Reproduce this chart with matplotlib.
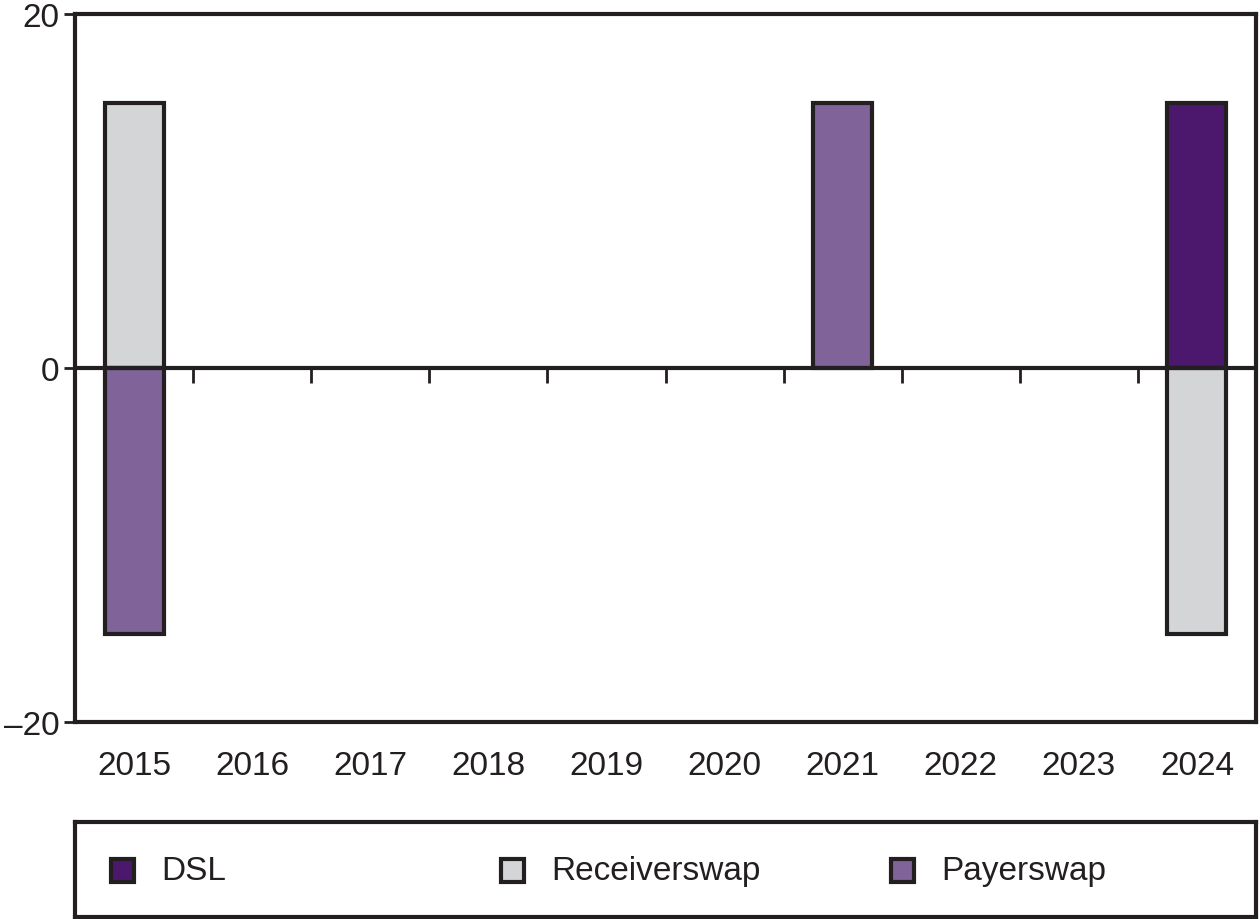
import numpy as np
import matplotlib.pyplot as plt
from matplotlib.patches import Rectangle

plt.rcParams['font.family'] = ['Liberation Sans', 'DejaVu Sans']

years = ["2015", "2016", "2017", "2018", "2019", "2020", "2021", "2022", "2023", "2024"]
series = ["DSL", "Receiverswap", "Payerswap"]
dsl = [0, 0, 0, 0, 0, 0, 0, 0, 0, 15]
receiverswap = [15, 0, 0, 0, 0, 0, 0, 0, 0, -15]
payerswap = [-15, 0, 0, 0, 0, 0, 15, 0, 0, 0]
colors = ["#4b186d", "#d4d5d7", "#7f6399"]
edge = "#231f20"


def main():
    fig = plt.figure(figsize=(12.6, 9.2), dpi=100)
    ax = fig.add_axes([75 / 1260, 1 - 723 / 920, 1181 / 1260, 708 / 920])

    x = np.arange(len(years))
    pos_bottom = np.zeros(len(years))
    neg_bottom = np.zeros(len(years))
    for vals, c in zip([dsl, receiverswap, payerswap], colors):
        v = np.array(vals, dtype=float)
        bottom = np.where(v >= 0, pos_bottom, neg_bottom)
        m = v != 0
        ax.bar(x[m], v[m], bottom=bottom[m], width=0.5, color=c,
               edgecolor=edge, linewidth=3, zorder=2)
        pos_bottom += np.where(v > 0, v, 0)
        neg_bottom += np.where(v < 0, v, 0)

    ax.axhline(0, color=edge, linewidth=3, zorder=3)
    ax.set_xlim(-0.5, len(years) - 0.5)
    ax.set_ylim(-20, 20)
    ax.set_yticks([-20, 0, 20])
    ax.set_yticklabels(["\u201320", "0", "20"])
    ax.set_xticks(x)
    ax.set_xticklabels(years)
    ax.tick_params(axis="x", length=0, pad=20, labelsize=24, colors=edge)
    ax.tick_params(axis="y", length=8, width=2, pad=3, labelsize=24, colors=edge)
    for s in ax.spines.values():
        s.set_linewidth(3)
        s.set_color(edge)

    # boundary ticks hanging below the zero line
    sec = ax.secondary_xaxis(0.5)
    sec.set_xticks(x[:-1] + 0.5)
    sec.set_xticklabels([])
    sec.tick_params(axis="x", direction="in", length=11, width=2, colors=edge)
    for s in sec.spines.values():
        s.set_visible(False)

    # legend box
    lax = fig.add_axes([75 / 1260, 1 - 918 / 920, 1181 / 1260, 95 / 920])
    lax.set_xlim(0, 1181)
    lax.set_ylim(0, 95)
    lax.set_xticks([])
    lax.set_yticks([])
    for s in lax.spines.values():
        s.set_linewidth(3)
        s.set_color(edge)
    starts = [36, 426, 816]
    for name, c, x0 in zip(series, colors, starts):
        lax.add_patch(Rectangle((x0, 35), 23, 23, facecolor=c, edgecolor=edge,
                                linewidth=3))
        lax.text(x0 + 50, 46.5, name, fontsize=24, color=edge, va="center")

    fig.savefig("out.png", dpi=100)


if __name__ == "__main__":
    main()
